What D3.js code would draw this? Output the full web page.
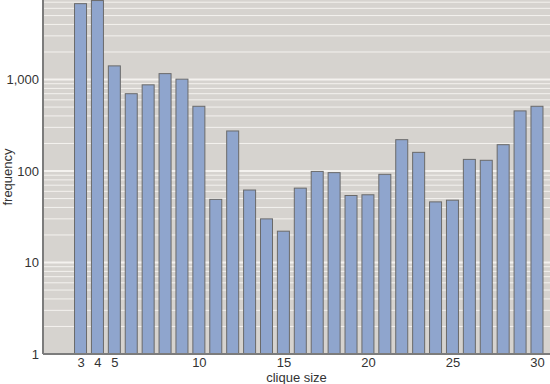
<!DOCTYPE html>
<html>
<head>
<meta charset="utf-8">
<script src="https://cdn.jsdelivr.net/npm/d3@7"></script>
<style>
  body { margin: 0; background: #fff; }
  svg { display: block; font-family: "Liberation Sans", Arial, sans-serif; }
</style>
</head>
<body>
<svg id="chart" width="550" height="384"></svg>
<script>
// clique size -> frequency
const cliqueSizes = [3, 4, 5, 6, 7, 8, 9, 10, 11, 12, 13, 14, 15, 16,
                     17, 18, 19, 20, 21, 22, 23, 24, 25, 26, 27, 28, 29, 30];
const frequencies = [6750, 7300, 1410, 700, 875, 1160, 1010, 510, 49, 274, 62, 30, 22, 65,
                     99, 96, 54, 55, 92, 220, 160, 46, 48, 134, 131, 194, 454, 510];
const xTicks = [3, 4, 5, 10, 15, 20, 25, 30];
const yTicks = [1, 10, 100, 1000];

const width = 550, height = 384;
const margin = {top: 0, right: 0, bottom: 30, left: 43};
const svg = d3.select("#chart");

const x = d3.scaleLinear()
    .domain([0.78, 30.77])
    .range([margin.left, width - margin.right]);
const y = d3.scaleLog()
    .domain([1, 7400])
    .range([height - margin.bottom, margin.top]);

const barW = 12;

// plot background
svg.append("rect")
    .attr("x", margin.left)
    .attr("y", margin.top)
    .attr("width", width - margin.left - margin.right)
    .attr("height", height - margin.top - margin.bottom)
    .attr("fill", "#d6d3cf");

// grid lines, every log step
const gridVals = [];
for (let p = 0; p < 4; p++) {
    for (let m = 1; m <= 9; m++) {
        const v = m * Math.pow(10, p);
        if (v > 1 && v <= 7400) gridVals.push(v);
    }
}
svg.append("g")
    .selectAll("line")
    .data(gridVals)
    .join("line")
    .attr("x1", margin.left)
    .attr("x2", width - margin.right)
    .attr("y1", d => y(d))
    .attr("y2", d => y(d))
    .attr("stroke", "#f4f2ef")
    .attr("stroke-width", d => yTicks.includes(d) ? 2 : 1);

// bars
svg.append("g")
    .selectAll("rect")
    .data(cliqueSizes)
    .join("rect")
    .attr("x", (d) => x(d) - barW / 2)
    .attr("y", (d, i) => y(frequencies[i]))
    .attr("width", barW)
    .attr("height", (d, i) => y(1) - y(frequencies[i]))
    .attr("fill", "#8fa5cd")
    .attr("stroke", "#6a6a6a")
    .attr("stroke-width", 1);

// axes
const yAxis = svg.append("g")
    .attr("transform", `translate(${margin.left},0)`)
    .call(d3.axisLeft(y).tickValues(yTicks).tickSize(0).tickPadding(4)
        .tickFormat(d3.format(",")));
const xAxis = svg.append("g")
    .attr("transform", `translate(0,${y(1)})`)
    .call(d3.axisBottom(x).tickValues(xTicks).tickSize(0).tickPadding(4)
        .tickFormat(d3.format("d")));

[yAxis, xAxis].forEach(g => {
    g.select(".domain").attr("stroke", "#7c7c7c").attr("stroke-width", 2);
    g.selectAll("text").attr("fill", "#333").attr("font-size", 13)
        .attr("font-family", "Liberation Sans, Arial, sans-serif");
});
xAxis.select(".domain").attr("d", `M${margin.left},0H${width}`);
yAxis.select(".domain").attr("d", `M0,0V${y(1)}`);

// axis titles
svg.append("text")
    .attr("x", (margin.left + width) / 2)
    .attr("y", 382)
    .attr("text-anchor", "middle")
    .attr("font-size", 13)
    .attr("fill", "#333")
    .text("clique size");
svg.append("text")
    .attr("transform", `translate(12,${y(1) / 2}) rotate(-90)`)
    .attr("text-anchor", "middle")
    .attr("font-size", 13)
    .attr("fill", "#333")
    .text("frequency");
</script>
</body>
</html>
